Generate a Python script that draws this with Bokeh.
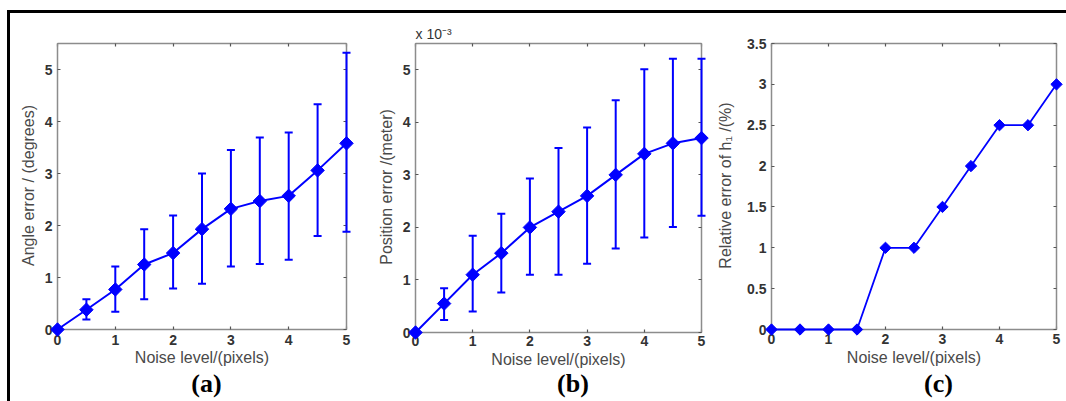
import numpy as np
from bokeh.plotting import figure
from bokeh.models import (ColumnDataSource, Whisker, TeeHead, LinearAxis, FixedTicker,
                          CustomJSTickFormatter, Range1d, Title, Div)
from bokeh.layouts import row, column
from bokeh.embed import file_html
from bokeh.resources import INLINE

# ---- data ----
noise = [0, 0.5, 1, 1.5, 2, 2.5, 3, 3.5, 4, 4.5, 5]

angle_err = [0, 0.38, 0.77, 1.25, 1.47, 1.93, 2.32, 2.47, 2.57, 3.06, 3.58]
angle_lo = [0, 0.19, 0.34, 0.58, 0.79, 0.88, 1.21, 1.26, 1.34, 1.80, 1.88]
angle_hi = [0, 0.58, 1.21, 1.93, 2.19, 3.00, 3.45, 3.69, 3.79, 4.33, 5.32]

# position error in units of 1e-3 m
pos_err = [0, 0.55, 1.10, 1.51, 2.00, 2.30, 2.60, 3.00, 3.40, 3.60, 3.70]
pos_lo = [0, 0.24, 0.40, 0.76, 1.10, 1.10, 1.31, 1.60, 1.81, 2.01, 2.22]
pos_hi = [0, 0.84, 1.84, 2.26, 2.93, 3.51, 3.90, 4.42, 5.01, 5.21, 5.21]

h1_err = [0, 0, 0, 0, 1, 1, 1.5, 2, 2.5, 2.5, 3]

x_ticks = [0, 1, 2, 3, 4, 5]
ya_ticks = [0, 1, 2, 3, 4, 5]
yb_ticks = [0, 1, 2, 3, 4, 5]
yc_ticks = [0, 0.5, 1, 1.5, 2, 2.5, 3, 3.5]

BLUE = "#0000ff"
FONT = "Liberation Sans"
PT, PB, PL, PR = 8, 6, 8, 8   # padding between frame and axes box (px)
FMT = "return String(Math.round(tick*100)/100)"


def make_panel(box_w, box_h, ymax, yticks, ylabel, borders, xstand, ystand):
    bl, br, bt, bb = borders
    sx = 5.0 / box_w
    sy = ymax / box_h
    p = figure(frame_width=box_w + PL + PR, frame_height=box_h + PT + PB,
               x_range=Range1d(-PL * sx, 5 + PR * sx),
               y_range=Range1d(-PB * sy, ymax + PT * sy),
               x_axis_location=None, y_axis_location=None,
               output_backend="svg", toolbar_location=None,
               min_border_left=bl, min_border_right=br,
               min_border_top=bt, min_border_bottom=bb)
    p.outline_line_color = None
    p.grid.visible = False
    p.background_fill_color = "white"
    p.border_fill_color = "white"

    # labelled axes at the frame edges (no lines / ticks)
    xlab = LinearAxis(ticker=FixedTicker(ticks=x_ticks, minor_ticks=[]),
                      formatter=CustomJSTickFormatter(code=FMT), axis_label="Noise level/(pixels)")
    ylab = LinearAxis(ticker=FixedTicker(ticks=yticks, minor_ticks=[]),
                      formatter=CustomJSTickFormatter(code=FMT), axis_label=ylabel)
    for ax, (ls, als) in ((xlab, xstand), (ylab, ystand)):
        ax.axis_line_color = None
        ax.major_tick_line_color = None
        ax.minor_tick_line_color = None
        ax.major_tick_in = 0
        ax.major_tick_out = 0
        ax.major_label_text_font = FONT
        ax.major_label_text_font_size = "14px"
        ax.major_label_text_font_style = "bold"
        ax.major_label_text_color = "#333333"
        ax.major_label_standoff = ls
        ax.axis_label_text_font = FONT
        ax.axis_label_text_font_size = "16px"
        ax.axis_label_text_color = "#4a4a4a"
        ax.axis_label_text_font_style = "normal"
        ax.axis_label_standoff = als
    p.add_layout(xlab, "below")
    p.add_layout(ylab, "left")

    # the axes box with inward ticks, drawn at the data limits
    box_axes = [
        ("below", LinearAxis(fixed_location=0, bounds=(0, 5), ticker=FixedTicker(ticks=x_ticks, minor_ticks=[]))),
        ("above", LinearAxis(fixed_location=ymax, bounds=(0, 5), ticker=FixedTicker(ticks=x_ticks, minor_ticks=[]))),
        ("left", LinearAxis(fixed_location=0, bounds=(0, ymax), ticker=FixedTicker(ticks=yticks, minor_ticks=[]))),
        ("right", LinearAxis(fixed_location=5, bounds=(0, ymax), ticker=FixedTicker(ticks=yticks, minor_ticks=[]))),
    ]
    for side, ax in box_axes:
        ax.axis_line_color = "#8c8c8c"
        ax.axis_line_width = 1.5
        ax.major_tick_in = 3
        ax.major_tick_out = 0
        ax.major_tick_line_color = "#555555"
        ax.major_tick_line_width = 1.2
        ax.minor_tick_line_color = None
        ax.major_label_text_font_size = "0px"
        ax.major_label_standoff = 0
        ax.formatter = CustomJSTickFormatter(code="return ''")
        p.add_layout(ax, side)
    return p


def add_series(p, y, lo=None, hi=None, lw=2.0, msize=9.5):
    if lo is not None:
        wsrc = ColumnDataSource(dict(x=noise, lo=lo, hi=hi))
        w = Whisker(source=wsrc, base="x", lower="lo", upper="hi", dimension="height",
                    line_color=BLUE, line_width=2, level="overlay",
                    upper_head=TeeHead(size=8, line_color=BLUE, line_width=2),
                    lower_head=TeeHead(size=8, line_color=BLUE, line_width=2))
        p.add_layout(w)
    src = ColumnDataSource(dict(x=noise, y=y))
    p.line("x", "y", source=src, line_color=BLUE, line_width=lw, level="overlay")
    p.scatter("x", "y", source=src, marker="square", angle=np.pi / 4, size=msize,
              fill_color=BLUE, line_color=BLUE, level="overlay")


# borders: (left, right, top, bottom); standoffs: (tick label, axis label)
pa = make_panel(289, 286, 5.5, ya_ticks, "Angle error / (degrees)", (39, 15, 19, 39), (-1, 1), (-3, 5))
add_series(pa, angle_err, angle_lo, angle_hi)

pb = make_panel(286, 289, 5.5, yb_ticks, "Position error /(meter)", (38, 3, 22, 33), (-3, 2), (-3, 5))
add_series(pb, pos_err, pos_lo, pos_hi)
scale_title = Title(text="x 10\u207b\u00b3", align="left", offset=8, standoff=-12,
                    text_font=FONT, text_font_size="14px", text_font_style="normal",
                    text_color="#333333")
pb.add_layout(scale_title, "above")

pc = make_panel(285, 286, 3.5, yc_ticks, "Relative error of h\u2081 /(%)", (51, 2, 22, 36), (-2, 2), (-3, 10))
add_series(pc, h1_err, lw=1.8, msize=8)


def caption(txt, w, box_left, box_w):
    html = ('<div style="position:relative;top:-5px;margin-left:%dpx;width:%dpx;text-align:center;'
            'font-family:\'Liberation Serif\';font-weight:bold;font-size:26px;'
            'line-height:26px;color:black;">%s</div>') % (box_left, box_w, txt)
    return Div(text=html, width=w, height=24)


caps = row(caption("(a)", 359, 47, 289), caption("(b)", 343, 46, 286), caption("(c)", 354, 59, 285))
layout = column(row(pa, pb, pc), caps,
                styles={"border-top": "3px solid black", "border-left": "3px solid black",
                        "margin-top": "10px", "margin-left": "7px"})

open("out.html", "w").write(file_html(layout, INLINE))
